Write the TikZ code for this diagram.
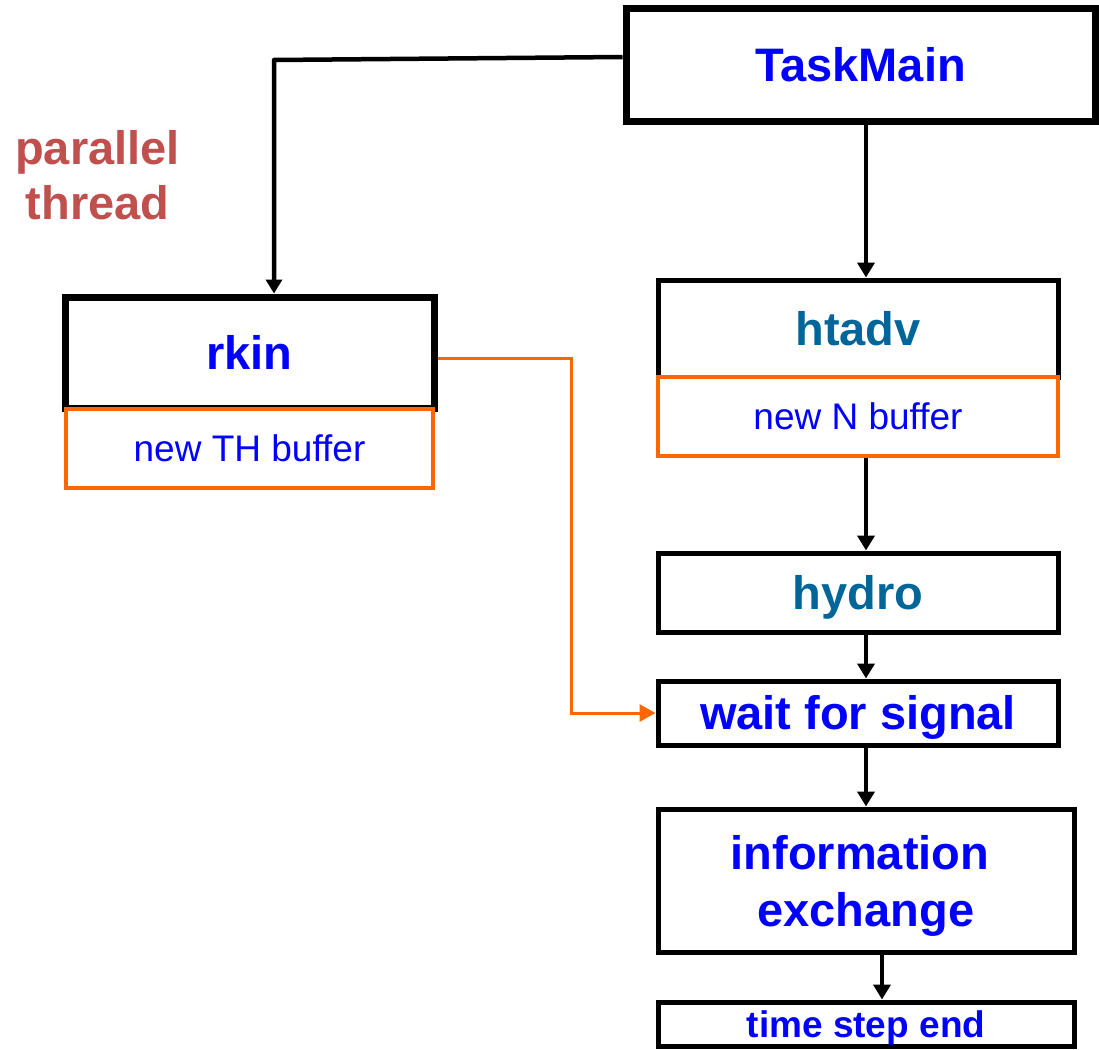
\documentclass[tikz,border=0pt]{standalone}
\usepackage{fontspec}
\setmainfont{Liberation Sans}
\usetikzlibrary{arrows.meta}
\definecolor{tblue}{HTML}{0000FF}
\definecolor{tteal}{HTML}{006699}
\definecolor{torange}{HTML}{FF6600}
\definecolor{tred}{HTML}{C0504D}
\begin{document}
\begin{tikzpicture}[x=1pt,y=-1pt,
  box/.style={draw=black, line width=5pt, fill=white, inner sep=0pt, rectangle},
  thickbox/.style={box, line width=7pt},
  buf/.style={draw=torange, line width=4.5pt, inner sep=0pt, fill=white, rectangle,
    font=\fontsize{37pt}{44pt}\selectfont, text=tblue, text height=26.5pt, text depth=0pt},
  big/.style={font=\fontsize{47pt}{57pt}\selectfont\bfseries, text height=33.7pt, text depth=0pt},
  arr/.style={draw=black, line width=4.5pt, line join=round, -{Triangle[length=15pt,width=17pt]}},
  oarr/.style={draw=torange, line width=3pt, -{Triangle[length=16pt,width=17pt]}},
]
\useasboundingbox (0,0) rectangle (1099,1049);

\node[thickbox, big, text=tblue, minimum width=469pt, minimum height=112pt] (tm) at (860.5,65) {TaskMain};
\node[font=\fontsize{47pt}{55pt}\selectfont\bfseries, text=tred, align=center, inner sep=0pt] (pt) at (97.5,175) {parallel\\thread};

\node[thickbox, big, text=tblue, minimum width=369pt, minimum height=111pt] (rkin) at (249.5,352.5) {rkin};
\node[buf, minimum width=367pt, minimum height=79pt] (thb) at (249.5,448.5) {new TH buffer};

\node[box, big, text=tteal, minimum width=400pt, minimum height=97pt] (htadv) at (858,328.5) {htadv};
\node[buf, minimum width=400pt, minimum height=79pt] (nb) at (858,416.5) {new N buffer};
\node[box, big, text=tteal, minimum width=400pt, minimum height=79pt] (hydro) at (858,592.5) {hydro};
\node[box, big, text=tblue, minimum width=400pt, minimum height=64pt] (wait) at (858,713) {wait for signal};
\node[box, font=\fontsize{47pt}{57pt}\selectfont\bfseries, text=tblue, align=center, minimum width=416pt, minimum height=143pt] (info) at (866,880.5) {\rule{0pt}{44pt}information\rule{12pt}{0pt}\\exchange};
\node[box, font=\fontsize{37pt}{44pt}\selectfont\bfseries, text=tblue, text height=26.5pt, text depth=0pt, minimum width=416pt, minimum height=44pt] (tse) at (866,1024) {time step end};

\coordinate (cx) at (866,0);
\coordinate (cx2) at (882,0);
\coordinate (corner) at (274,60);
\coordinate (ox) at (571,0);

\draw[arr] (tm.south -| cx) -- (htadv.north -| cx);
\draw[arr] (nb.south -| cx) -- (hydro.north -| cx);
\draw[arr] (hydro.south -| cx) -- (wait.north -| cx);
\draw[arr] (wait.south -| cx) -- (info.north -| cx);
\draw[arr] (info.south -| cx2) -- (tse.north -| cx2);
\draw[arr, -{Triangle[length=14pt,width=16pt]}] ([yshift=8pt]tm.west) -- (corner) -- (corner |- rkin.north);
\draw[oarr] ([yshift=-6pt]rkin.east) -| (ox |- wait.west) -- (wait.west);
\end{tikzpicture}
\end{document}
